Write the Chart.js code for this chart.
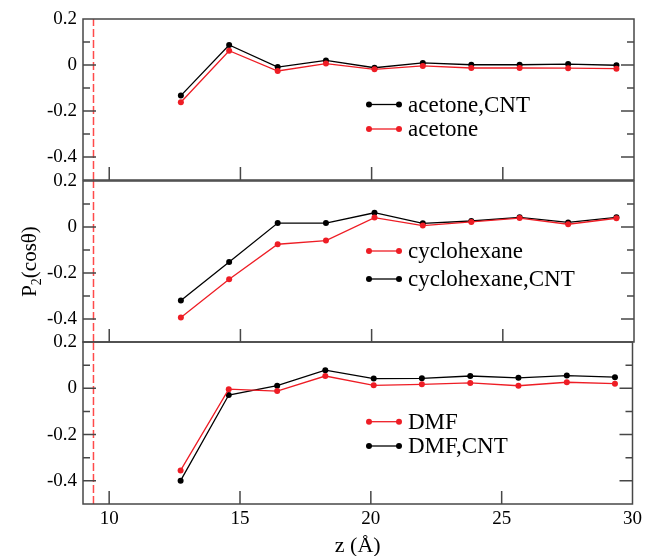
<!DOCTYPE html>
<html>
<head>
<meta charset="utf-8">
<script src="https://cdn.jsdelivr.net/npm/chart.js@4.4.0/dist/chart.umd.min.js"></script>
<style>
html, body { margin: 0; padding: 0; background: #fff; }
#wrap { position: relative; width: 646px; height: 556px; overflow: hidden; }
canvas { position: absolute; left: 0; }
</style>
</head>
<body>
<div id="wrap">
  <canvas id="p1" width="646" height="200" style="top:0px"></canvas>
  <canvas id="p2" width="646" height="200" style="top:161px"></canvas>
  <canvas id="p3" width="646" height="234" style="top:322px"></canvas>
</div>
<script>
// z positions (Å) of the bins
const zValues = [12.73, 14.57, 16.42, 18.26, 20.11, 21.95, 23.8, 25.64, 27.49, 29.33];

// P2(cos theta) per solvent, with and without the nanotube
const acetoneCNT     = [-0.133, 0.087, -0.009, 0.020, -0.012, 0.009, 0.001, 0.001, 0.004, -0.001];
const acetone        = [-0.162, 0.062, -0.026, 0.006, -0.019, -0.004, -0.013, -0.013, -0.014, -0.016];
const cyclohexane    = [-0.393, -0.227, -0.075, -0.059, 0.041, 0.006, 0.022, 0.039, 0.012, 0.038];
const cyclohexaneCNT = [-0.320, -0.152, 0.017, 0.017, 0.062, 0.016, 0.026, 0.042, 0.020, 0.042];
const dmf            = [-0.355, -0.004, -0.012, 0.053, 0.013, 0.017, 0.023, 0.011, 0.026, 0.020];
const dmfCNT         = [-0.399, -0.029, 0.011, 0.078, 0.042, 0.043, 0.053, 0.045, 0.055, 0.048];

const xTicks = [10, 15, 20, 25, 30];
const yTicks = [0.2, 0, -0.2, -0.4];
const cntEdge = 9.4; // dashed red line

const RED = '#ee1d25';
const BLACK = '#000000';
const FRAME = '#474747';
const SERIF = "'Liberation Serif', 'Times New Roman', serif";

function pts(arr) { return arr.map((v, i) => ({ x: zValues[i], y: v })); }

function series(label, arr, color) {
  return {
    label: label, data: pts(arr), borderColor: color, backgroundColor: color,
    borderWidth: 1.3, pointRadius: 3, pointBorderWidth: 0, pointBackgroundColor: color,
    showLine: true, fill: false
  };
}

function edgeLine() {
  return {
    label: '', data: [{ x: cntEdge, y: -0.5 }, { x: cntEdge, y: 0.2 }],
    borderColor: '#ff4a4a', borderWidth: 1.5, borderDash: [8, 3], pointRadius: 0, showLine: true
  };
}

function fmt(v) {
  const r = Math.round(v * 10) / 10;
  return r === 0 ? '0' : String(r);
}

// box round each panel, with inward ticks
const axesFrame = {
  id: 'axesFrame',
  afterDatasetsDraw(chart) {
    const { ctx, chartArea: a, scales: { x, y } } = chart;
    ctx.save();
    ctx.strokeStyle = FRAME;
    ctx.lineWidth = 1.5;
    ctx.strokeRect(a.left, a.top, a.right - a.left, a.bottom - a.top);
    ctx.beginPath();
    xTicks.forEach(v => {
      const px = x.getPixelForValue(v);
      if (px < a.right - 2) { ctx.moveTo(px, a.bottom); ctx.lineTo(px, a.bottom - 13); }
    });
    for (let i = -4; i <= 1; i++) {
      const py = y.getPixelForValue(i / 10);
      const len = i % 2 === 0 ? 13 : 7;
      ctx.moveTo(a.left, py); ctx.lineTo(a.left + len, py);
      ctx.moveTo(a.right, py); ctx.lineTo(a.right - len, py);
    }
    ctx.stroke();
    ctx.restore();
  }
};

// legend inside the panel
const panelLegend = {
  id: 'panelLegend',
  afterDraw(chart, args, opts) {
    const { ctx, chartArea: a } = chart;
    ctx.save();
    ctx.font = '23px ' + SERIF;
    ctx.textBaseline = 'middle';
    ctx.textAlign = 'left';
    opts.rows.forEach((idx, k) => {
      const ds = chart.data.datasets[idx];
      const yy = a.top + opts.top + k * opts.gap;
      const x1 = a.left + 286, x2 = a.left + 316;
      ctx.strokeStyle = ds.borderColor;
      ctx.fillStyle = ds.borderColor;
      ctx.lineWidth = 1.3;
      ctx.beginPath(); ctx.moveTo(x1, yy); ctx.lineTo(x2, yy); ctx.stroke();
      [x1, x2].forEach(px => { ctx.beginPath(); ctx.arc(px, yy, 3, 0, Math.PI * 2); ctx.fill(); });
      ctx.fillStyle = '#000';
      ctx.fillText(ds.label, a.left + 325, yy + 1);
    });
    ctx.restore();
  }
};

// P2(cos theta) title with subscript, on the middle panel
const yTitle = {
  id: 'yTitle',
  afterDraw(chart) {
    const { ctx, chartArea: a } = chart;
    const cy = (a.top + a.bottom) / 2;
    ctx.save();
    ctx.translate(28, cy);
    ctx.rotate(-Math.PI / 2);
    ctx.fillStyle = '#000';
    ctx.textBaseline = 'alphabetic';
    const big = '21px ' + SERIF, small = '14px ' + SERIF;
    ctx.font = big; const wP = ctx.measureText('P').width; const wR = ctx.measureText('(cosθ)').width;
    ctx.font = small; const w2 = ctx.measureText('2').width;
    let u = -(wP + w2 + wR) / 2;
    ctx.font = big; ctx.fillText('P', u, 8); u += wP;
    ctx.font = small; ctx.fillText('2', u, 13); u += w2;
    ctx.font = big; ctx.fillText('(cosθ)', u, 8);
    ctx.restore();
  }
};

function makePanel(id, datasets, legendOpts, pad, bottomAxis, extra) {
  return new Chart(document.getElementById(id), {
    type: 'scatter',
    data: { datasets: datasets },
    options: {
      responsive: false,
      animation: false,
      events: [],
      layout: { padding: pad },
      scales: {
        x: {
          type: 'linear', min: 9, max: 30, display: bottomAxis,
          grid: { display: false, drawTicks: false },
          border: { display: false },
          afterBuildTicks: s => { s.ticks = xTicks.map(v => ({ value: v })); },
          afterFit: s => { s.height = bottomAxis ? 52 : 0; },
          ticks: { padding: 4, color: '#000', font: { family: SERIF, size: 19 }, maxRotation: 0, autoSkip: false },
          title: { display: bottomAxis, text: 'z (Å)', color: '#000', padding: 0,
                   font: { family: SERIF, size: 22, lineHeight: 0.85 } }
        },
        y: {
          min: -0.5, max: 0.2,
          grid: { display: false, drawTicks: false },
          border: { display: false },
          afterBuildTicks: s => { s.ticks = yTicks.map(v => ({ value: v })); },
          afterFit: s => { s.width = 83; },
          ticks: { padding: 6, color: '#000', font: { family: SERIF, size: 19 }, callback: v => fmt(v) }
        }
      },
      plugins: {
        legend: { display: false },
        tooltip: { enabled: false },
        panelLegend: legendOpts
      }
    },
    plugins: [axesFrame, panelLegend].concat(extra || [])
  });
}

makePanel('p1',
  [edgeLine(), series('acetone', acetone, RED), series('acetone,CNT', acetoneCNT, BLACK)],
  { rows: [2, 1], top: 85.5, gap: 24.5 },
  { top: 19, bottom: 20, left: 0, right: 12 }, false);

makePanel('p2',
  [edgeLine(), series('cyclohexane', cyclohexane, RED), series('cyclohexane,CNT', cyclohexaneCNT, BLACK)],
  { rows: [1, 2], top: 70, gap: 28 },
  { top: 20, bottom: 19, left: 0, right: 12 }, false, [yTitle]);

makePanel('p3',
  [edgeLine(), series('DMF', dmf, RED), series('DMF,CNT', dmfCNT, BLACK)],
  { rows: [1, 2], top: 79.7, gap: 24.3 },
  { top: 20, bottom: 0, left: 0, right: 12 }, true);
</script>
</body>
</html>
